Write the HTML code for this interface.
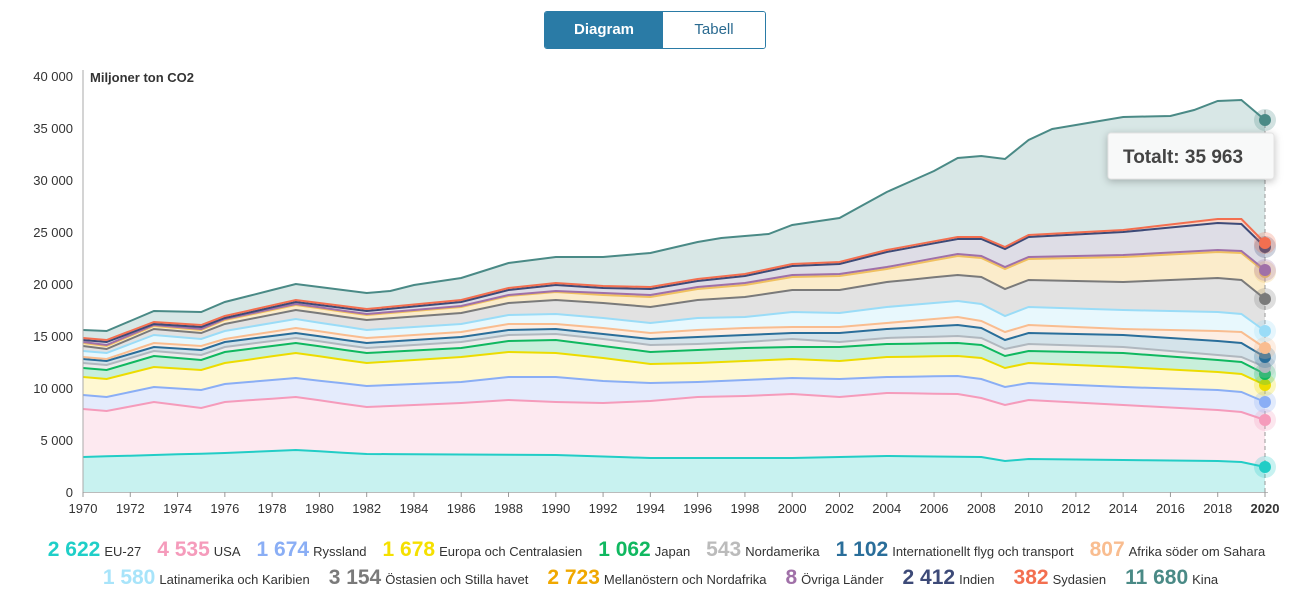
<!DOCTYPE html>
<html><head><meta charset="utf-8"><style>
body{margin:0;width:1293px;height:599px;background:#fff;font-family:"Liberation Sans",sans-serif;overflow:hidden;position:relative}
.btns{position:absolute;left:544px;top:11px;height:36px;display:flex;border:1px solid #2a7ba6;border-radius:3px;overflow:hidden}
.btns div{font-size:15px;line-height:35px;text-align:center}
.b1{width:118px;background:#2a7ba6;color:#fff;font-weight:bold}
.b2{width:102px;color:#2a6a90;background:#fff}
.leg{position:absolute;left:0;width:1293px;display:flex;justify-content:center;align-items:baseline;white-space:nowrap}
.leg span.n{font-weight:bold;font-size:21px;margin-right:4px}
.leg span.l{font-size:13px;color:#333;margin-right:16px}
</style></head><body>
<div class="btns"><div class="b1">Diagram</div><div class="b2">Tabell</div></div>
<svg id="c" width="1293" height="530" style="position:absolute;left:0;top:0"></svg>
<div class="leg" style="top:538px;left:10px">
<span class="n" style="color:#1fcfc8">2 622</span><span class="l">EU-27</span>
<span class="n" style="color:#f59bbb">4 535</span><span class="l">USA</span>
<span class="n" style="color:#8aaef5">1 674</span><span class="l">Ryssland</span>
<span class="n" style="color:#f5e000">1 678</span><span class="l">Europa och Centralasien</span>
<span class="n" style="color:#10b860">1 062</span><span class="l">Japan</span>
<span class="n" style="color:#bbb">543</span><span class="l">Nordamerika</span>
<span class="n" style="color:#2a6e9a">1 102</span><span class="l">Internationellt flyg och transport</span>
<span class="n" style="color:#f9bd90">807</span><span class="l" style="margin-right:0">Afrika söder om Sahara</span>
</div>
<div class="leg" style="top:566px;left:14px">
<span class="n" style="color:#a8e4fa">1 580</span><span class="l" style="margin-right:19px">Latinamerika och Karibien</span>
<span class="n" style="color:#7a7a7a">3 154</span><span class="l" style="margin-right:19px">Östasien och Stilla havet</span>
<span class="n" style="color:#f0a800">2 723</span><span class="l" style="margin-right:19px">Mellanöstern och Nordafrika</span>
<span class="n" style="color:#a070a8">8</span><span class="l" style="margin-right:19px">Övriga Länder</span>
<span class="n" style="color:#3d4a78">2 412</span><span class="l" style="margin-right:19px">Indien</span>
<span class="n" style="color:#f36f50">382</span><span class="l" style="margin-right:19px">Sydasien</span>
<span class="n" style="color:#4a8a86">11 680</span><span class="l" style="margin-right:0">Kina</span>
</div>
<script>
const K={
eu:{1970:457,1976:453,1979:450,1982:454,1990:455,1994:458,2000:458,2004:456,2008:457,2009:461,2010:459,2014:460,2018:461,2019:462,2020:467},
pink:{1970:409,1971:411,1973:402,1975:408,1976:402,1979:397,1982:407,1986:403,1988:400,1990:402,1992:403,1994:401,1996:397,1998:396,2000:394,2002:397,2004:393,2007:394,2008:398,2009:405,2010:400,2014:405,2018:410,2019:412,2020:420},
rus:{1970:395,1971:397,1973:387,1975:390,1976:384,1979:378,1982:386,1986:382,1988:377,1990:377,1992:381,1994:383,1996:382,1998:380,2000:378,2002:379,2004:377,2007:376,2008:379,2009:387,2010:383,2014:387,2018:390,2019:392,2020:402},
eur:{1970:377,1971:379,1973:367,1975:370,1976:363,1979:353,1982:363,1986:357,1988:352,1990:353,1992:358,1994:364,1996:363,1998:361,2000:359,2002:361,2004:357,2007:356,2008:358,2009:368,2010:363,2014:367,2018:372,2019:374,2020:385},
jap:{1970:368,1971:370,1973:356,1975:360,1976:352,1979:343,1982:353,1986:348,1988:341,1990:340,1992:346,1994:352,1996:350,1998:348,2000:347,2002:347,2004:344,2007:343,2008:345,2009:356,2010:351,2014:353,2018:360,2019:362,2020:374},
nord:{1970:363,1971:365,1973:351,1975:355,1976:347,1979:338,1982:348,1986:342,1988:335,1990:334,1992:339,1994:345,1996:344,1998:342,2000:339,2002:342,2004:338,2007:336,2008:338,2009:349,2010:344,2014:347,2018:355,2019:357,2020:367},
dk:{1970:359,1971:361,1973:347,1975:350,1976:342,1979:333,1982:343,1986:337,1988:330,1990:329,1992:334,1994:339,1996:337,1998:335,2000:333,2002:333,2004:329,2007:325,2008:328,2009:340,2010:333,2014:335,2018:341,2019:343,2020:357},
afr:{1970:357,1971:359,1973:343,1975:346,1976:339,1979:328,1982:338,1986:332,1988:324,1990:324,1992:328,1994:333,1996:330,1998:328,2000:327,2002:327,2004:323,2007:317,2008:321,2009:332,2010:325,2014:329,2018:331,2019:332,2020:348},
lat:{1970:351,1971:353,1973:335,1975:339,1976:331,1979:319,1982:330,1986:324,1988:315,1990:314,1992:318,1994:323,1996:318,1998:317,2000:312,2002:313,2004:307,2007:301,2008:304,2009:316,2010:307,2014:310,2018:312,2019:314,2020:331},
ost:{1970:346,1971:349,1973:329,1975:333,1976:324,1979:310,1982:320,1986:313,1988:303,1990:300,1992:303,1994:307,1996:300,1998:297,2000:290,2002:290,2004:282,2007:275,2008:277,2009:289,2010:280,2014:282,2018:278,2019:280,2020:299},
mel:{1970:343,1971:346,1973:326,1975:330,1976:320,1979:305,1982:315,1986:307,1988:296,1990:292,1992:295,1994:297,1996:289,1998:285,2000:277,2002:276,2004:269,2007:256,2008:258,2009:269,2010:259,2014:257,2018:252,2019:253,2020:272},
ovr:{1970:342,1971:345,1973:325,1975:329,1976:319,1979:304,1982:314,1986:306,1988:295,1990:291,1992:293,1994:295,1996:287,1998:283,2000:275,2002:274,2004:267,2007:254,2008:256,2009:267,2010:257,2014:255,2018:250,2019:251,2020:270},
ind:{1970:340,1971:342,1973:324,1975:327,1976:318,1979:302,1982:311,1986:302,1988:290,1990:285,1992:288,1994:289,1996:281,1998:276,2000:266,2002:264,2004:252,2007:239,2008:239,2009:249,2010:237,2014:232,2018:223,2019:224,2020:247},
syd:{1970:338,1971:340,1973:322,1975:325,1976:316,1979:300,1982:309,1986:300,1988:288,1990:283,1992:286,1994:287,1996:279,1998:274,2000:264,2002:262,2004:250,2007:237,2008:237,2009:247,2010:235,2014:230,2018:219,2019:219,2020:243},
kina:{1970:330,1971:331,1973:311,1975:312,1976:302,1979:284,1982:293,1983:291,1984:285,1986:278,1988:263,1990:257,1992:257,1994:253,1996:242,1997:238,1998:236,1999:234,2000:225,2002:218,2004:192,2006:171,2007:158,2008:156,2009:159,2010:140,2011:129,2014:117,2016:116,2017:110,2018:101,2019:100,2020:120}
};
const X=y=>83+(y-1970)*(1182/50);
function ser(o){const ks=Object.keys(o).map(Number).sort((a,b)=>a-b);const r=[];for(let y=1970;y<=2020;y++){let i=0;while(i<ks.length-1&&ks[i+1]<y)i++;let a=ks[i],b=ks[Math.min(i+1,ks.length-1)];if(y<=a){r.push(o[a]);continue}r.push(o[a]+(o[b]-o[a])*(y-a)/(b-a||1))}return r}
const L=[["eu","#22cdc6","#c8f2f0"],["pink","#f59bbb","#fde9f0"],["rus","#8aaef5","#e4ebfc"],["eur","#ecdc00","#fff8d2"],["jap","#10b860","#c8efdb"],["nord","#b0b8bf","#ececec"],["dk","#2a6e9a","#d4e3ea"],["afr","#f9bd90","#fdeee3"],["lat","#9adcf7","#e8f8fd"],["ost","#7a7a7a","#e2e2e2"],["mel","#f0c060","#fbeccb"],["ovr","#a070a8","#e8dde8"],["ind","#3d4a78","#dedde6"],["syd","#f36f50","#f8d8cc"],["kina","#4a8a86","#d8e7e6"]];
let s='';
for(let i=0;i<=8;i++){const y=492-i*52;s+=`<text x="73" y="${y+5}" text-anchor="end" font-size="13" fill="#333">${i==0?'0':(i*5)+' 000'}</text>`}
s+=`<text x="90" y="82" font-size="13" font-weight="bold" fill="#333">Miljoner ton CO2</text>`;
let prev=Array(51).fill(492);
const data=L.map(l=>ser(K[l[0]]));
let fills='',lines='';
L.forEach((l,i)=>{const d=data[i];let p='M'+d.map((v,j)=>X(1970+j).toFixed(1)+','+v.toFixed(1)).join('L');let q=p;for(let j=50;j>=0;j--)q+='L'+X(1970+j).toFixed(1)+','+prev[j].toFixed(1);fills+=`<path d="${q}Z" fill="${l[2]}"/>`;lines+=`<path d="${p}" fill="none" stroke="${l[1]}" stroke-width="2"/>`;prev=d});
s+=fills+lines;
s+=`<line x1="83" y1="70" x2="83" y2="492" stroke="#aaa"/><line x1="83" y1="492.5" x2="1268" y2="492.5" stroke="#bbb"/>`;
for(let y=1970;y<=2020;y+=2){const x=X(y);s+=`<line x1="${x}" y1="492" x2="${x}" y2="497" stroke="#999"/><text x="${x}" y="513" text-anchor="middle" font-size="13" fill="#333" ${y==2020?'font-weight="bold"':''}>${y}</text>`}
s+=`<line x1="1265" y1="110" x2="1265" y2="492" stroke="#999" stroke-dasharray="4,3"/>`;
L.forEach((l,i)=>{const v=data[i][50];s+=`<circle cx="1265" cy="${v}" r="11" fill="${l[1]}" opacity="0.25"/><circle cx="1265" cy="${v}" r="6" fill="${l[1]}"/>`});
s+=`<rect x="1108" y="133" width="166" height="46" rx="3" fill="#f8f9f9" stroke="#e4e4e4" style="filter:drop-shadow(0 2px 4px rgba(0,0,0,.25))"/><text x="1123" y="163" font-size="19" font-weight="bold" fill="#444">Totalt: 35 963</text>`;
document.getElementById('c').innerHTML=s;
</script>
</body></html>
